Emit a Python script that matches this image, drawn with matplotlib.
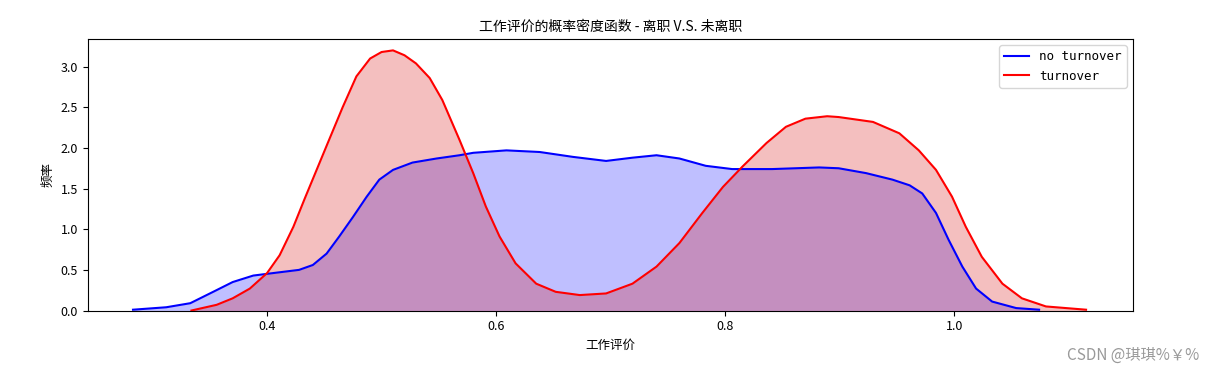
import numpy as np
import matplotlib
matplotlib.use('Agg')
import matplotlib.pyplot as plt

plt.rcParams['font.family'] = ['Noto Sans CJK SC', 'DejaVu Sans']
plt.rcParams['axes.unicode_minus'] = False

# ---- KDE curves ----
no_turnover_x = [0.283, 0.312, 0.333, 0.353, 0.370, 0.388, 0.405, 0.428, 0.440, 0.452,
                 0.463, 0.475, 0.487, 0.498, 0.510, 0.527, 0.548, 0.568, 0.580, 0.609,
                 0.638, 0.667, 0.696, 0.719, 0.740, 0.760, 0.783, 0.806, 0.841, 0.882,
                 0.899, 0.923, 0.946, 0.961, 0.972, 0.984, 0.995, 1.007, 1.019, 1.033,
                 1.054, 1.074]
no_turnover_y = [0.01, 0.04, 0.09, 0.23, 0.35, 0.43, 0.46, 0.50, 0.56, 0.70,
                 0.91, 1.15, 1.40, 1.61, 1.73, 1.82, 1.87, 1.91, 1.94, 1.97,
                 1.95, 1.89, 1.84, 1.88, 1.91, 1.87, 1.78, 1.74, 1.74, 1.76,
                 1.75, 1.69, 1.61, 1.54, 1.44, 1.20, 0.87, 0.54, 0.27, 0.11,
                 0.03, 0.01]

turnover_x = [0.334, 0.356, 0.370, 0.385, 0.400, 0.411, 0.423, 0.433, 0.443, 0.453,
              0.466, 0.478, 0.490, 0.500, 0.510, 0.520, 0.530, 0.542, 0.553, 0.568,
              0.580, 0.591, 0.603, 0.617, 0.635, 0.652, 0.673, 0.696, 0.719, 0.740,
              0.760, 0.780, 0.798, 0.815, 0.836, 0.853, 0.870, 0.889, 0.899, 0.929,
              0.952, 0.969, 0.984, 0.998, 1.010, 1.024, 1.042, 1.059, 1.080, 1.115]
turnover_y = [0.00, 0.07, 0.15, 0.27, 0.46, 0.68, 1.03, 1.38, 1.72, 2.06,
              2.50, 2.88, 3.10, 3.18, 3.20, 3.14, 3.04, 2.86, 2.59, 2.10,
              1.69, 1.28, 0.91, 0.58, 0.33, 0.23, 0.19, 0.21, 0.33, 0.54,
              0.83, 1.20, 1.52, 1.77, 2.06, 2.26, 2.36, 2.39, 2.38, 2.32,
              2.18, 1.97, 1.73, 1.40, 1.03, 0.66, 0.33, 0.15, 0.05, 0.01]

xticks = [0.4, 0.6, 0.8, 1.0]
yticks = [0.0, 0.5, 1.0, 1.5, 2.0, 2.5, 3.0]

fig = plt.figure(figsize=(12.14, 3.68), dpi=100)
ax = fig.add_axes([0.0722, 0.1562, 0.8611, 0.7378])

ax.plot(no_turnover_x, no_turnover_y, color='blue', linewidth=1.5, label='no turnover')
ax.fill_between(no_turnover_x, no_turnover_y, color='blue', alpha=0.25, linewidth=0)
ax.plot(turnover_x, turnover_y, color='red', linewidth=1.5, label='turnover')
ax.fill_between(turnover_x, turnover_y, color='#d60000', alpha=0.25, linewidth=0)

ax.set_xlim(0.2434, 1.156)
ax.set_ylim(0, 3.34)
ax.set_xticks(xticks)
ax.set_yticks(yticks)
ax.tick_params(labelsize=9)

ax.set_title('工作评价的概率密度函数 - 离职 V.S. 未离职', fontsize=10)
ax.set_xlabel('工作评价', fontsize=9)
ax.set_ylabel('频率', fontsize=9)
ax.legend(loc='upper right', prop={'family': 'DejaVu Sans Mono', 'size': 9})

fig.text(0.988, 0.035, 'CSDN @琪琪%￥%', ha='right', va='center',
         fontsize=11, color='#999999')

plt.savefig('out.png', dpi=100)
plt.close()
